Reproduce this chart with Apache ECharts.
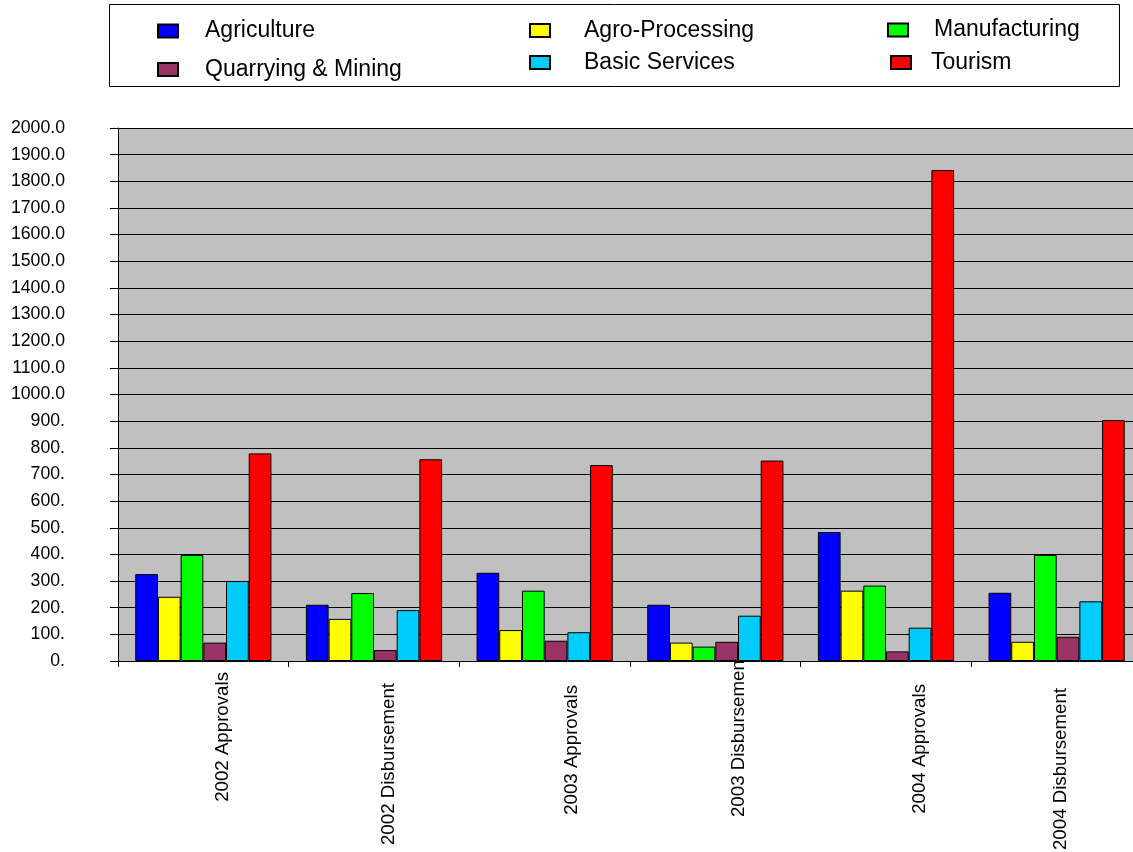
<!DOCTYPE html>
<html>
<head>
<meta charset="utf-8">
<script src="https://cdn.jsdelivr.net/npm/echarts@6/dist/echarts.min.js"></script>
<style>
  html, body { margin: 0; padding: 0; background: #ffffff; }
  #chart { width: 1133px; height: 852px; }
</style>
</head>
<body>
<div id="chart"></div>
<script>
// ---- data ----
const categories = ['2002 Approvals', '2002 Disbursement', '2003 Approvals', '2003 Disbursement', '2004 Approvals', '2004 Disbursement'];
const seriesNames = ['Agriculture', 'Agro-Processing', 'Manufacturing', 'Quarrying & Mining', 'Basic Services', 'Tourism'];
const agriculture    = [326, 211, 331, 211, 484, 256];
const agroProcessing = [241, 158, 116, 69, 264, 72];
const manufacturing  = [398, 255, 264, 54, 283, 398];
const quarrying      = [69, 41, 76, 72, 36, 91];
const basicServices  = [300, 191, 108, 170, 125, 224];
const tourism        = [779, 757, 735, 752, 1842, 904];
const yMin = 0, yMax = 2000, yStep = 100;

// ---- styling / layout ----
const colors = ['#0000FF', '#FFFF00', '#00FF00', '#993366', '#00CCFF', '#FF0000'];
const FONT = "'Liberation Sans', Arial, sans-serif";
// per-label nudges of the rotated category labels: [shift right, shift down]
const labelNudge = [[19, 17], [14, 28], [26.5, 30], [22.5, 0], [32.5, 29], [3, 33]];
// legend item placement: [iconLeft, iconCenterY, textGap]
const legendPos = [
  [157, 28, 22], [529, 27.5, 29], [887, 27, 21],
  [157, 66.5, 22], [529, 59.5, 29], [890, 59.5, 15]
];
const legendShift = -2;

const values = [agriculture, agroProcessing, manufacturing, quarrying, basicServices, tourism];

const chart = echarts.init(document.getElementById('chart'), null, { renderer: 'canvas' });

const xData = categories.map((c, i) => ({
  value: c,
  textStyle: {
    verticalAlign: 'top', lineHeight: 2,
    padding: [labelNudge[i][0], labelNudge[i][1], 0, 0]
  }
}));

const legends = seriesNames.map((n, i) => ({
  data: [n],
  left: legendPos[i][0],
  top: legendPos[i][1] - 6.5 + legendShift,
  padding: 0,
  orient: 'horizontal',
  icon: 'rect',
  itemWidth: 20,
  itemHeight: 13,
  selectedMode: false,
  textStyle: {
    fontFamily: FONT, fontSize: 23, color: '#000', lineHeight: 13,
    padding: [0, 0, 0, legendPos[i][2]]
  }
}));

const option = {
  animation: false,
  backgroundColor: '#ffffff',
  color: colors,
  legend: legends,
  graphic: [{
    type: 'rect',
    shape: { x: 109.5, y: 4.5, width: 1010, height: 82 },
    style: { fill: 'none', stroke: '#000', lineWidth: 1 },
    silent: true
  }],
  grid: {
    left: 118, top: 128, width: 1024, bottom: 191,
    show: true, backgroundColor: '#C0C0C0', borderWidth: 0,
    containLabel: false,
    outerBoundsMode: 'none'
  },
  xAxis: {
    type: 'category',
    data: xData,
    axisLine: { show: true, lineStyle: { color: '#000', width: 1 } },
    axisTick: { show: true, length: 6, lineStyle: { color: '#000' } },
    axisLabel: {
      rotate: 90, margin: -6, interval: 0,
      fontFamily: FONT, fontSize: 18.7, color: '#000'
    },
    splitLine: { show: false }
  },
  yAxis: {
    type: 'value',
    min: yMin, max: yMax, interval: yStep,
    axisLine: { show: true, lineStyle: { color: '#000', width: 1 } },
    axisTick: { show: true, length: 8, lineStyle: { color: '#000' } },
    axisLabel: {
      margin: 53, fontFamily: FONT, fontSize: 17.7, color: '#000',
      formatter: v => (v >= 1000 ? v.toFixed(1) : v + '.')
    },
    splitLine: { show: true, lineStyle: { color: '#000', width: 1 } }
  },
  series: seriesNames.map((n, i) => ({
    name: n,
    type: 'bar',
    data: values[i],
    barGap: '0%',
    barCategoryGap: '20.2%',
    itemStyle: { color: colors[i], borderColor: '#000', borderWidth: 1 }
  }))
};

chart.setOption(option);
</script>
</body>
</html>
